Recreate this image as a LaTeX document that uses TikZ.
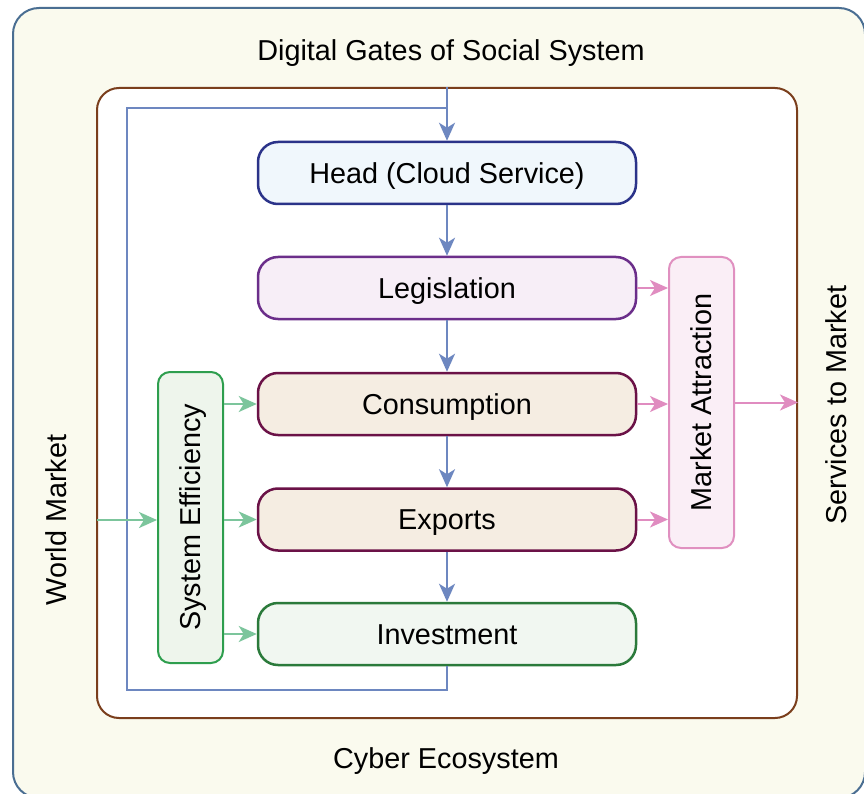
\documentclass[tikz,border=0pt]{standalone}
\usepackage{fontspec}
\setmainfont{Liberation Sans}
\usetikzlibrary{arrows.meta}
\definecolor{outerfill}{HTML}{FAFAEE}
\definecolor{outerline}{HTML}{4A6E92}
\definecolor{innerline}{HTML}{7A3E1C}
\definecolor{headfill}{HTML}{F0F7FC}
\definecolor{headline}{HTML}{2B3389}
\definecolor{legfill}{HTML}{F7EEF7}
\definecolor{legline}{HTML}{6B2E8A}
\definecolor{consfill}{HTML}{F5EDE2}
\definecolor{consline}{HTML}{6B1247}
\definecolor{invfill}{HTML}{F1F7F1}
\definecolor{invline}{HTML}{2B7A3B}
\definecolor{sefill}{HTML}{EEF5EC}
\definecolor{seline}{HTML}{2E9E4E}
\definecolor{mafill}{HTML}{FAEEF6}
\definecolor{maline}{HTML}{E090C0}
\definecolor{bluec}{HTML}{6D87C0}
\definecolor{greenc}{HTML}{7CC59C}
\definecolor{pinkc}{HTML}{E08CC0}
\tikzset{
  txt/.style={font=\fontsize{28.8}{34}\selectfont, text=black, inner sep=0pt, text height=20.5pt, text depth=0pt},
  mainbox/.style={rectangle, rounded corners=20pt, line width=2.5pt, minimum width=378pt, minimum height=62pt, inner sep=0pt, font=\fontsize{28.8}{34}\selectfont, text height=20.5pt, text depth=0pt},
  sidebox/.style={rectangle, rounded corners=12pt, line width=2pt, minimum width=65pt, minimum height=291pt, inner sep=0pt},
  tip/.style={-{Stealth[length=18pt,width=16pt,inset=5pt]}},
  bluearr/.style={tip, draw=bluec, fill=bluec, line width=2pt},
  blueline/.style={draw=bluec, line width=2pt},
  greenarr/.style={tip, draw=greenc, fill=greenc, line width=2pt},
  pinkarr/.style={tip, draw=pinkc, fill=pinkc, line width=2pt},
}
\begin{document}
\begin{tikzpicture}[x=1pt,y=-1pt]
\useasboundingbox (0,0) rectangle (864,794);
% outer
\node[draw=outerline, fill=outerfill, line width=2pt, rounded corners=26pt, rectangle, minimum width=852pt, minimum height=790pt, inner sep=0pt] (outer) at (439,403) {};
\node[draw=innerline, fill=white, line width=2pt, rounded corners=22pt, rectangle, minimum width=700pt, minimum height=630pt, inner sep=0pt] (inner) at (447,403) {};
\node[txt] (title) at (451,50) {Digital Gates of Social System};
\node[txt] (cyber) at (446,758) {Cyber Ecosystem};
\node[txt, rotate=90] (world) at (56,520) {World Market};
\node[txt, rotate=90] (services) at (836,405) {Services to Market};
% main boxes
\node[mainbox, draw=headline, fill=headfill] (head) at (447,173) {Head (Cloud Service)};
\node[mainbox, draw=legline, fill=legfill] (leg) at (447,288) {Legislation};
\node[mainbox, draw=consline, fill=consfill] (cons) at (447,404) {Consumption};
\node[mainbox, draw=consline, fill=consfill] (exp) at (447,519.5) {Exports};
\node[mainbox, draw=invline, fill=invfill] (inv) at (447,634) {Investment};
% side boxes
\node[sidebox, draw=seline, fill=sefill] (se) at (190.5,517.5) {};
\node[txt, rotate=90] (setext) at (se.center) {System Efficiency};
\node[sidebox, draw=maline, fill=mafill] (ma) at (701.5,402.5) {};
\node[txt, rotate=90] (matext) at (ma.center) {Market Attraction};
% blue flow
\coordinate (loopbl) at (127,690);
\coordinate (looptr) at (447,108);
\draw[blueline] (inv.south) |- (loopbl) |- (looptr);
\draw[bluearr] (inner.north) -- (head.north);
\draw[bluearr] (head.south) -- (leg.north);
\draw[bluearr] (leg.south) -- (cons.north);
\draw[bluearr] (cons.south) -- (exp.north);
\draw[bluearr] (exp.south) -- (inv.north);
% green
\coordinate (wm) at (97,520);
\draw[greenarr] (wm) -- (se.west |- wm);
\draw[greenarr] (se.east |- cons.west) -- (cons.west);
\draw[greenarr] (se.east |- exp.west) -- (exp.west);
\draw[greenarr] (se.east |- inv.west) -- (inv.west);
% pink
\draw[pinkarr] (leg.east) -- (ma.west |- leg.east);
\draw[pinkarr] (cons.east) -- (ma.west |- cons.east);
\draw[pinkarr] (exp.east) -- (ma.west |- exp.east);
\draw[pinkarr] (ma.east) -- (inner.east |- ma.east);
\end{tikzpicture}
\end{document}
